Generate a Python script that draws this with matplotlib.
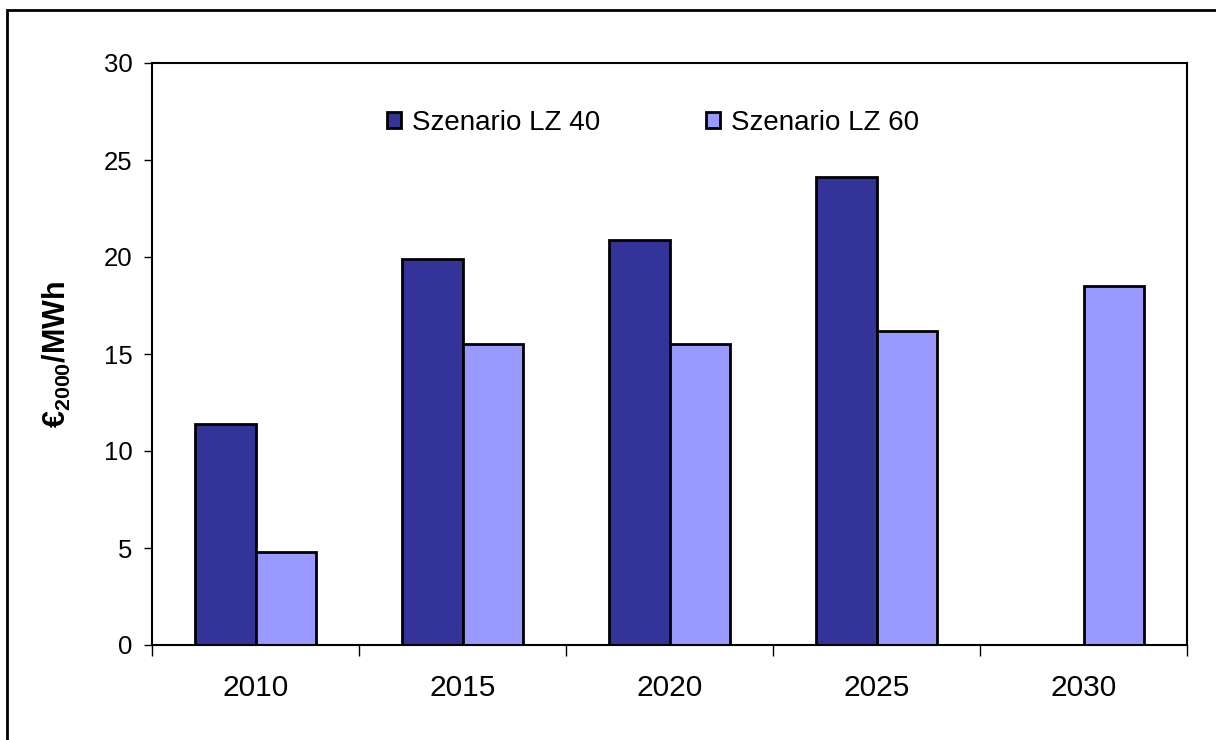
import matplotlib.pyplot as plt
import numpy as np
from matplotlib.patches import Rectangle

plt.rcParams['font.family'] = ['Liberation Sans', 'DejaVu Sans']
plt.rcParams['mathtext.fontset'] = 'custom'
plt.rcParams['mathtext.rm'] = 'Liberation Sans'
plt.rcParams['mathtext.bf'] = 'Liberation Sans:bold'

years = ['2010', '2015', '2020', '2025', '2030']
lz40 = [11.4, 19.9, 20.9, 24.1, np.nan]
lz60 = [4.8, 15.5, 15.5, 16.2, 18.5]
series_names = ['Szenario LZ 40', 'Szenario LZ 60']
col_dark = '#333399'
col_light = '#9999FF'

fig = plt.figure(figsize=(12.16, 7.4), dpi=100)
ax = fig.add_axes([152/1216, 1-645/740, 1035/1216, 582/740])

x = np.arange(len(years))
w = 0.29
ax.bar(x - w/2, lz40, w, color=col_dark, edgecolor='black', linewidth=2, label=series_names[0])
ax.bar(x + w/2, lz60, w, color=col_light, edgecolor='black', linewidth=2, label=series_names[1])

ax.set_xlim(-0.5, len(years) - 0.5)
ax.set_ylim(0, 30)
ax.set_yticks(np.arange(0, 31, 5))
ax.set_xticks(x)
ax.set_xticklabels(years)
ax.set_xticks(np.arange(-0.5, len(years), 1), minor=True)
ax.tick_params(axis='x', which='major', length=0, pad=21, labelsize=21.5)
ax.tick_params(axis='x', which='minor', length=8, width=1, direction='out')
ax.tick_params(axis='y', length=6, width=1, direction='out', pad=8, labelsize=18.5)

for s in ax.spines.values():
    s.set_linewidth(1.5)
    s.set_color('black')

ax.set_ylabel(r'$\mathbf{€_{2000}/MWh}$', fontsize=22)
ax.yaxis.set_label_coords(-0.076, 0.5)

ax.legend(loc='center', bbox_to_anchor=(0.484, 0.897), ncol=2, frameon=False,
          fontsize=20, handlelength=0.5, handleheight=0.5, handletextpad=0.4,
          columnspacing=3.8)

# outer chart border
fig.patches.append(Rectangle((7/1216, -1), 3, 1 + (1 - 10/740), transform=fig.transFigure,
                             fill=False, edgecolor='black', linewidth=2))

fig.savefig('out.png', dpi=100)
